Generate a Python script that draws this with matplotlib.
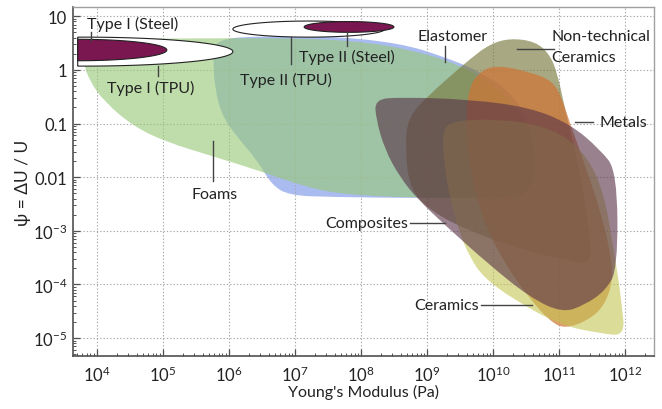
import numpy as np
import matplotlib
matplotlib.use("Agg")
import matplotlib.pyplot as plt
from matplotlib.path import Path
from matplotlib.patches import PathPatch
from matplotlib.ticker import FixedLocator, FixedFormatter, LogLocator, NullFormatter

plt.rcParams['font.family'] = ['Lato', 'DejaVu Sans']
plt.rcParams['mathtext.fontset'] = 'custom'
plt.rcParams['mathtext.rm'] = 'Lato'
plt.rcParams['mathtext.it'] = 'Lato:italic'
plt.rcParams['mathtext.bf'] = 'Lato:bold'

# ---------------- data (log10 of E [Pa], log10 of psi) ----------------
elastomer_logE = [5.79, 6.47, 7.53, 8.59, 9.27, 9.80, 10.26, 10.53, 10.64, 10.59, 10.33,
                  8.89, 7.53, 6.92, 6.65, 6.44, 6.09, 5.89, 5.79, 5.76]
elastomer_logpsi = [0.57, 0.63, 0.63, 0.50, 0.24, -0.03, -0.40, -0.92, -1.66, -2.22, -2.37,
                    -2.39, -2.37, -2.34, -2.15, -1.70, -1.20, -0.83, -0.36, 0.20]

foams_logE = [3.77, 5.56, 7.08, 7.98, 8.74, 9.50, 10.11, 10.48, 10.61, 10.56, 10.33,
              8.89, 7.68, 7.08, 6.58, 5.76, 5.06, 4.55, 4.12, 3.89, 3.79]
foams_logpsi = [0.57, 0.59, 0.59, 0.53, 0.38, 0.10, -0.36, -0.92, -1.66, -2.26, -2.39,
                -2.39, -2.32, -2.15, -1.93, -1.61, -1.35, -1.05, -0.60, -0.21, 0.16]

nontech_logE = [9.65, 9.95, 10.26, 10.64, 10.86, 10.98, 11.09, 11.24, 11.39, 11.47, 11.48,
                11.17, 10.41, 9.65, 9.05, 8.74, 8.67, 8.71, 9.05, 9.35]
nontech_logpsi = [0.20, 0.48, 0.59, 0.53, 0.29, -0.08, -0.73, -1.48, -2.41, -3.16, -3.62,
                  -3.56, -3.34, -3.01, -2.63, -2.22, -1.48, -0.88, -0.45, -0.12]

metals_logE = [9.62, 9.80, 10.06, 10.56, 10.91, 11.05, 11.17, 11.39, 11.62, 11.77, 11.82,
               11.70, 11.47, 11.09, 10.86, 10.56, 10.18, 9.88, 9.68, 9.59]
metals_logpsi = [-0.36, -0.03, 0.09, -0.04, -0.21, -0.55, -1.01, -1.76, -2.60, -3.34, -3.90,
                 -4.37, -4.65, -4.83, -4.68, -4.27, -3.62, -2.88, -2.04, -1.20]

ceramics_logE = [9.23, 9.42, 10.11, 10.71, 11.17, 11.50, 11.70, 11.80, 11.89, 11.95, 12.00,
                 11.62, 11.02, 10.30, 9.85, 9.65, 9.50, 9.35, 9.26]
ceramics_logpsi = [-1.11, -0.94, -0.92, -1.03, -1.29, -1.76, -2.41, -3.16, -3.81, -4.37, -4.96,
                   -4.91, -4.76, -4.27, -3.86, -3.49, -3.06, -2.41, -1.76]

composites_logE = [8.21, 8.59, 9.65, 10.56, 11.17, 11.62, 11.88, 11.89, 11.70, 11.39, 11.05,
                   10.56, 9.95, 9.27, 8.86, 8.59, 8.36, 8.23]
composites_logpsi = [-0.55, -0.51, -0.55, -0.70, -1.01, -1.48, -1.89, -3.71, -4.12, -4.38, -4.53,
                     -4.24, -3.64, -2.89, -2.41, -2.00, -1.48, -0.92]

# ellipses: centre logE, centre logpsi, half-width (decades), half-height (decades)
ell_names = ['Type I (TPU)', 'Type I (Steel)', 'Type II (TPU)', 'Type II (Steel)']
ell_cx = [3.80, 3.71, 7.21, 7.82]
ell_cy = [0.34, 0.37, 0.76, 0.80]
ell_w = [2.26, 1.35, 1.15, 0.68]
ell_h = [0.27, 0.20, 0.15, 0.10]

x_tick_exp = [4, 5, 6, 7, 8, 9, 10, 11, 12]
x_tick_labels = ['$10^{%d}$' % e for e in x_tick_exp]
y_tick_exp = [-5, -4, -3, -2, -1, 0, 1]
y_tick_labels = ['$10^{-5}$', '$10^{-4}$', '$10^{-3}$', '0.01', '0.1', '1', '10']

# ---------------- drawing ----------------
fig = plt.figure(figsize=(6.62, 4.10), dpi=100)
ax = fig.add_axes([0.110, 0.129, 0.878, 0.851])
ax.set_xscale('log')
ax.set_yscale('log')
ax.set_xlim(10 ** 3.636, 10 ** 12.44)
ax.set_ylim(10 ** -5.335, 10 ** 1.168)


def smooth_region(lx, ly, color, alpha, z):
    pts = np.column_stack([lx, ly]).astype(float)
    mids = (pts + np.roll(pts, -1, axis=0)) / 2.0
    verts = [mids[-1]]
    codes = [Path.MOVETO]
    for i in range(len(pts)):
        verts += [pts[i], mids[i]]
        codes += [Path.CURVE3, Path.CURVE3]
    verts = 10 ** np.array(verts)
    patch = PathPatch(Path(verts, codes), facecolor=color, edgecolor='none',
                      alpha=alpha, zorder=z)
    ax.add_patch(patch)


smooth_region(elastomer_logE, elastomer_logpsi, '#8ea6ea', 0.75, 2)
smooth_region(foams_logE, foams_logpsi, '#98c878', 0.62, 3)
smooth_region(nontech_logE, nontech_logpsi, '#7a7a40', 0.65, 4)
smooth_region(metals_logE, metals_logpsi, '#d07434', 0.70, 5)
smooth_region(ceramics_logE, ceramics_logpsi, '#c4c450', 0.58, 6)
smooth_region(composites_logE, composites_logpsi, '#5a3448', 0.62, 7)


def ellipse(cx, cy, w, h, face, z, xcut=3.71):
    t = np.linspace(0, 2 * np.pi, 300)
    ex = np.maximum(cx + w * np.cos(t), xcut)
    ey = cy + h * np.sin(t)
    ax.fill(10 ** ex, 10 ** ey, facecolor=face, edgecolor='#222222', lw=0.8, zorder=z)


ell_faces = ['white', '#7a1650', 'white', '#7a1650']
for i in range(4):
    ellipse(ell_cx[i], ell_cy[i], ell_w[i], ell_h[i], ell_faces[i], 10 + i)

# grid / ticks
ax.xaxis.set_major_locator(FixedLocator([10.0 ** e for e in x_tick_exp]))
ax.xaxis.set_major_formatter(FixedFormatter(x_tick_labels))
ax.yaxis.set_major_locator(FixedLocator([10.0 ** e for e in y_tick_exp]))
ax.yaxis.set_major_formatter(FixedFormatter(y_tick_labels))
ax.xaxis.set_minor_locator(LogLocator(base=10, subs=np.arange(2, 10), numticks=30))
ax.yaxis.set_minor_locator(LogLocator(base=10, subs=np.arange(2, 10), numticks=30))
ax.xaxis.set_minor_formatter(NullFormatter())
ax.yaxis.set_minor_formatter(NullFormatter())
ax.tick_params(which='both', direction='in', color='#505050', labelsize=12,
               labelcolor='#222222', top=False, right=False)
ax.tick_params(which='major', length=5, width=0.9)
ax.tick_params(which='minor', length=2.5, width=0.7)
ax.tick_params(axis='x', pad=6)
ax.tick_params(axis='y', pad=4)
ax.grid(True, which='major', color='#a8a8a8', linestyle=(0, (1.2, 1.8)), linewidth=0.8, zorder=20)
ax.set_axisbelow(False)

for s in ['left', 'bottom']:
    ax.spines[s].set_color('#505050')
    ax.spines[s].set_linewidth(1.2)
for s in ['top', 'right']:
    ax.spines[s].set_color('#a0a0a0')
    ax.spines[s].set_linewidth(1.0)

ax.set_xlabel("Young's Modulus (Pa)", fontsize=11.5, color='#222222', labelpad=0)
ax.set_ylabel('ψ = ΔU / U', fontsize=12.5, color='#222222', labelpad=1)

# labels & leader lines
lc = '#444444'
fs = 11.5
tc = '#222222'


def lead(x0, y0, x1, y1):
    ax.plot([10 ** x0, 10 ** x1], [10 ** y0, 10 ** y1], color=lc, lw=1.0, zorder=30)


def lab(x, y, s, ha='left'):
    ax.text(10 ** x, 10 ** y, s, ha=ha, va='center', fontsize=fs, color=tc, zorder=31)


lab(3.85, 0.87, 'Type I (Steel)')
lead(3.91, 0.70, 3.91, 0.53)
lab(4.15, -0.32, 'Type I (TPU)')
lead(4.92, 0.07, 4.92, -0.12)
lab(6.17, -0.17, 'Type II (TPU)')
lead(6.94, 0.61, 6.94, 0.11)
lab(7.06, 0.25, 'Type II (Steel)')
lead(7.79, 0.70, 7.79, 0.44)
lab(8.85, 0.63, 'Elastomer')
lead(9.27, 0.44, 9.27, 0.14)
lab(10.89, 0.63, 'Non-technical')
lab(10.89, 0.24, 'Ceramics')
lead(10.36, 0.385, 10.92, 0.385)
lab(11.61, -0.975, 'Metals')
lead(11.24, -0.975, 11.52, -0.975)
lab(5.79, -2.32, 'Foams', ha='center')
lead(5.76, -1.33, 5.76, -2.07)
lab(8.71, -2.86, 'Composites', ha='right')
lead(8.74, -2.86, 9.27, -2.86)
lab(9.79, -4.38, 'Ceramics', ha='right')
lead(9.82, -4.38, 10.59, -4.38)

fig.savefig('out.png', dpi=100)
